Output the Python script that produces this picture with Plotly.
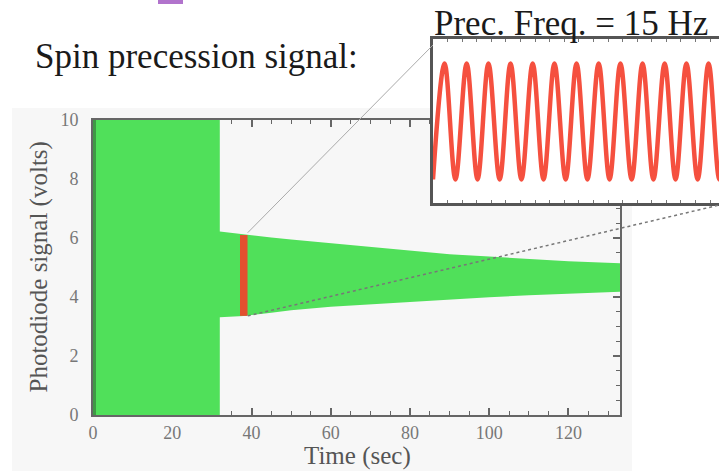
import plotly.graph_objects as go

# ---------------- data ----------------
# envelope of the photodiode signal (volts) vs time (sec)
time_s = [0, 32, 32, 38, 45, 50, 60, 70, 80, 90, 100, 110, 120, 133]
env_upper = [10, 10, 6.22, 6.12, 6.02, 5.95, 5.82, 5.70, 5.56, 5.45, 5.37, 5.29, 5.21, 5.14]
env_lower = [0, 0, 3.31, 3.36, 3.47, 3.55, 3.67, 3.75, 3.85, 3.93, 3.99, 4.06, 4.12, 4.18]

# zoomed segment (red bar)
zoom_t = 38.05
zoom_low = 3.36
zoom_high = 6.10

# inset: successive extremes of the 15 Hz precession signal
inset_t = [38.000, 38.035, 38.068, 38.102, 38.135, 38.168, 38.202, 38.235, 38.268,
           38.302, 38.335, 38.368, 38.402, 38.435, 38.468, 38.502, 38.535, 38.568,
           38.602, 38.635, 38.668, 38.702, 38.735, 38.768, 38.802, 38.835, 38.868, 38.902]
inset_v = [3.36, 6.12, 3.36, 6.12, 3.36, 6.12, 3.36, 6.12, 3.36, 6.12, 3.36, 6.12, 3.36, 6.12,
           3.36, 6.12, 3.36, 6.12, 3.36, 6.12, 3.36, 6.12, 3.36, 6.12, 3.36, 6.12, 3.36, 6.12]

x_ticks = [0, 20, 40, 60, 80, 100, 120]
y_ticks = [0, 2, 4, 6, 8, 10]

# ---------------- geometry ----------------
W, H = 719, 471
MX0, MX1 = 93, 620      # main plot pixel x
MY0, MY1 = 120, 415     # main plot pixel y (top, bottom)
IX0, IX1 = 433, 719     # inset pixel x
IY0, IY1 = 39, 203      # inset pixel y
x_range = [0, 133]
y_range = [0, 10]
ix_range = [38.0, 38.0 + (IX1 - IX0) / 330.0]
iy_range = [2.80, 6.70]

def px(x):
    return x / W

def py(y):
    return (H - y) / H

def main_xp(t):
    return px(MX0 + (t - x_range[0]) / (x_range[1] - x_range[0]) * (MX1 - MX0))

def main_yp(v):
    return py(MY1 - (v - y_range[0]) / (y_range[1] - y_range[0]) * (MY1 - MY0))

GREEN = '#50e05a'
SERIF = 'Liberation Serif, Times New Roman, serif'

fig = go.Figure()

# green signal envelope
fig.add_trace(go.Scatter(x=time_s, y=env_lower, mode='lines', line=dict(width=0, color=GREEN),
                         hoverinfo='skip', showlegend=False))
fig.add_trace(go.Scatter(x=time_s, y=env_upper, mode='lines', line=dict(width=0, color=GREEN),
                         fill='tonexty', fillcolor=GREEN, hoverinfo='skip', showlegend=False))
# darker left edge of the saturated signal
fig.add_trace(go.Scatter(x=[time_s[0], time_s[0]], y=[env_lower[0], env_upper[0]], mode='lines',
                         line=dict(width=6, color='#3f9a45'), hoverinfo='skip', showlegend=False))
# red zoomed segment
fig.add_trace(go.Scatter(x=[zoom_t, zoom_t], y=[zoom_low, zoom_high], mode='lines',
                         line=dict(width=7.5, color='#e2502f'), hoverinfo='skip', showlegend=False))

# inset: white cover + sine
fig.add_trace(go.Scatter(x=[ix_range[0], ix_range[1], ix_range[1], ix_range[0], ix_range[0]],
                         y=[iy_range[0], iy_range[0], iy_range[1], iy_range[1], iy_range[0]],
                         mode='lines', fill='toself', fillcolor='white', line=dict(width=0),
                         xaxis='x2', yaxis='y2', hoverinfo='skip', showlegend=False))
fig.add_trace(go.Scatter(x=inset_t, y=inset_v, mode='lines', line=dict(width=4.5, color='#f5503f', shape='spline'),
                         xaxis='x2', yaxis='y2', hoverinfo='skip', showlegend=False))

axis_common = dict(showline=True, linecolor='#666', linewidth=2, mirror='ticks', ticks='inside',
                   tickcolor='#666', tickwidth=1.5, ticklen=7, showgrid=False, zeroline=False,
                   layer='below traces', automargin=False)

fig.update_layout(
    width=W, height=H, margin=dict(l=0, r=0, t=0, b=0, pad=0), autosize=False,
    paper_bgcolor='white', plot_bgcolor='rgba(0,0,0,0)', showlegend=False,
    xaxis=dict(domain=[px(MX0), px(MX1)], range=x_range, anchor='y', tickmode='array', tickvals=x_ticks,
               minor=dict(ticks='inside', ticklen=4, tickcolor='#666', tickwidth=1, dtick=5, tick0=0),
               ticklabelstandoff=0, tickfont=dict(family=SERIF, size=18, color='#777'), **axis_common),
    yaxis=dict(domain=[py(MY1), py(MY0)], range=y_range, anchor='x', tickmode='array', tickvals=y_ticks,
               minor=dict(ticks='inside', ticklen=4, tickcolor='#666', tickwidth=1, dtick=0.5, tick0=0),
               ticklabelstandoff=9, tickfont=dict(family=SERIF, size=18, color='#777'), **axis_common),
    xaxis2=dict(domain=[px(IX0), px(IX1)], range=ix_range, anchor='y2', showline=True, linecolor='#555',
                linewidth=2.5, mirror='ticks', ticks='inside', ticklen=3, tickcolor='#777', tickwidth=1,
                tick0=ix_range[0], dtick=0.0442, showticklabels=False, showgrid=False, zeroline=False,
                automargin=False),
    yaxis2=dict(domain=[py(IY1), py(IY0)], range=iy_range, anchor='x2', showline=True, linecolor='#555',
                linewidth=2.5, ticks='', showticklabels=False, showgrid=False, zeroline=False,
                automargin=False),
)

shapes = [
    # light panel behind the chart
    dict(type='rect', xref='paper', yref='paper', x0=px(12), x1=px(632), y0=-0.02, y1=py(108),
         fillcolor='#f7f7f7', line=dict(width=0), layer='below'),
    # purple mark at the top
    dict(type='rect', xref='paper', yref='paper', x0=px(158), x1=px(183), y0=py(4), y1=1.02,
         fillcolor='#b173cc', line=dict(width=0), layer='above'),
    # connector from top of the zoomed segment to the inset corner
    dict(type='line', xref='paper', yref='paper', x0=main_xp(zoom_t + 1.0), y0=main_yp(zoom_high) + 0.005,
         x1=px(IX0), y1=py(IY0 + 6), line=dict(color='#aaa', width=1), layer='above'),
    # dotted connector from bottom of the zoomed segment to the inset's far corner
    dict(type='line', xref='paper', yref='paper', x0=main_xp(zoom_t + 1.0), y0=main_yp(zoom_low),
         x1=px(760), y1=py(195.5), line=dict(color='#777', width=1.5, dash='dot'), layer='above'),
]
fig.update_layout(shapes=shapes)

annotations = [
    dict(text='Spin precession signal:', x=px(33), y=py(57), xref='paper', yref='paper',
         xanchor='left', yanchor='middle', showarrow=False, font=dict(family=SERIF, size=35, color='#1a1a1a')),
    dict(text='Prec. Freq. = 15 Hz', x=px(432), y=py(24), xref='paper', yref='paper',
         xanchor='left', yanchor='middle', showarrow=False, font=dict(family=SERIF, size=35, color='#1a1a1a')),
    dict(text='Time (sec)', x=px(357), y=py(456), xref='paper', yref='paper',
         xanchor='center', yanchor='middle', showarrow=False, font=dict(family=SERIF, size=25, color='#555')),
    dict(text='Photodiode signal (volts)', x=px(38), y=py(267.5), xref='paper', yref='paper', textangle=-90,
         xanchor='center', yanchor='middle', showarrow=False, font=dict(family=SERIF, size=25, color='#555')),
]
fig.update_layout(annotations=annotations)

fig.write_html('out.html')
